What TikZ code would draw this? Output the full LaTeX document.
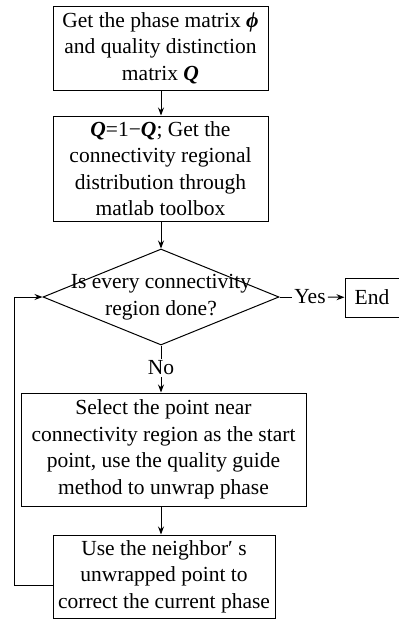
\documentclass[tikz,border=0pt]{standalone}
\usepackage{fontspec}
\setmainfont{Liberation Serif}
\usetikzlibrary{shapes.geometric,arrows.meta}
\newcommand{\bQ}{\textbf{\textit{Q}}}
\begin{document}
\begin{tikzpicture}[x=1pt,y=-1pt,
  every node/.style={font=\fontsize{21.5}{26.5}\selectfont},
  procbox/.style={draw,line width=1pt,rectangle,inner sep=0pt,align=center},
  arr/.style={line width=1pt,-{Stealth[length=8pt,width=6pt]}},
  ln/.style={line width=1pt}]
\useasboundingbox (0,0) rectangle (399,619);
\node[procbox,minimum width=215pt,minimum height=84pt] (b1) at (160.5,48)
  {Get the phase matrix \textbf{\textit{ϕ}}\\and quality distinction\\matrix \bQ};
\node[procbox,minimum width=215pt,minimum height=105pt] (b2) at (160.5,168.5)
  {\bQ=1−\bQ; Get the\\connectivity regional\\distribution through\\matlab toolbox};
\node[draw,line width=1pt,diamond,inner sep=0pt,minimum width=236pt,minimum height=96pt] (dec) at (161,297) {};
\node[align=center,inner sep=0pt] (dect) at (161,297) {Is every connectivity\\region done?};
\node[inner sep=2pt] (yes) at (310,297) {Yes};
\node[procbox,minimum width=54pt,minimum height=39pt] (end) at (372,297.5) {End};
\node[inner sep=2pt] (no) at (161,368) {No};
\node[procbox,minimum width=285pt,minimum height=113pt] (b3) at (163.5,449.5)
  {Select the point near\\connectivity region as the start\\point, use the quality guide\\method to unwrap phase};
\node[procbox,minimum width=222pt,minimum height=83pt] (b4) at (164,576.5)
  {Use the neighbor′ s\\unwrapped point to\\correct the current phase};
\coordinate (lp) at (14,585);
\draw[arr] (b1.south -| dec.north) -- (b2.north -| dec.north);
\draw[arr] (b2.south -| dec.north) -- (dec.north);
\draw[ln] (dec.east) -- (yes);
\draw[arr] (yes) -- (end);
\draw[ln] (dec.south) -- (no);
\draw[arr] (no) -- (b3.north -| no);
\draw[arr] (b3.south -| no) -- (b4.north -| no);
\draw[arr] (b4.west |- lp) -- (lp) |- (dec.west);
\end{tikzpicture}
\end{document}
